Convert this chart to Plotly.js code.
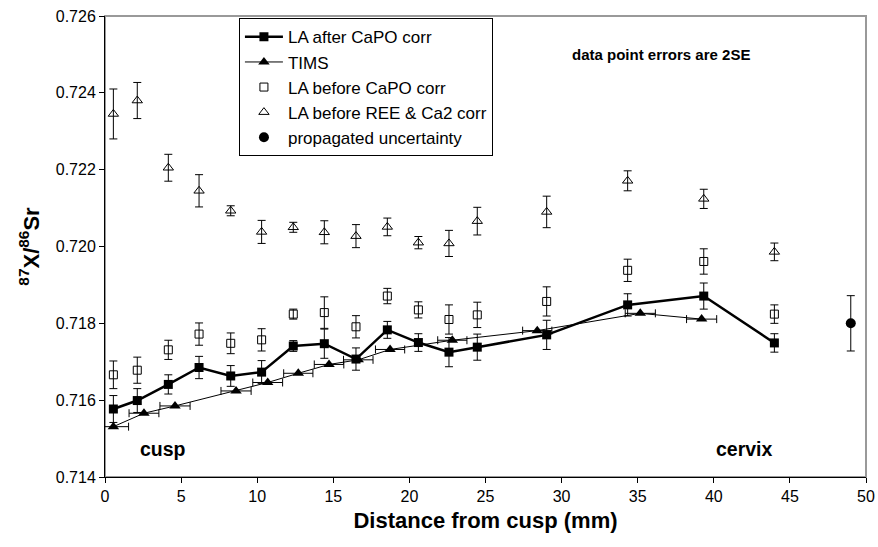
<!DOCTYPE html>
<html>
<head>
<meta charset="utf-8">
<script src="https://cdn.plot.ly/plotly-3.0.1.min.js"></script>
<style>html,body{margin:0;padding:0;background:#fff;}#chart{width:878px;height:547px;}</style>
</head>
<body>
<div id="chart"></div>
<script>
// Distance from cusp (mm) for laser-ablation (LA) spots
const laX = [0.55, 2.12, 4.16, 6.18, 8.26, 10.29, 12.37, 14.41, 16.49, 18.55, 20.59, 22.6, 24.46, 29.02, 34.34, 39.34, 43.98];
// LA after CaPO corr
const laAfter = [0.71577, 0.71599, 0.71641, 0.71685, 0.71663, 0.71673, 0.71741, 0.71747, 0.71707, 0.71783, 0.71750, 0.71725, 0.71738, 0.71770, 0.71848, 0.71871, 0.71749];
const laAfterErr = [0.00035, 0.00031, 0.00025, 0.00029, 0.00027, 0.00030, 0.00014, 0.00038, 0.00029, 0.00022, 0.00023, 0.00038, 0.00034, 0.00038, 0.00029, 0.00034, 0.00024];
// LA before CaPO corr
const laBeforeCaPO = [0.71666, 0.71678, 0.71731, 0.71772, 0.71748, 0.71757, 0.71824, 0.71828, 0.71791, 0.71871, 0.71835, 0.71810, 0.71822, 0.71857, 0.71938, 0.71961, 0.71824];
const laBeforeCaPOErr = [0.00036, 0.00034, 0.00025, 0.00029, 0.00027, 0.00029, 0.00013, 0.00041, 0.00029, 0.00020, 0.00021, 0.00038, 0.00033, 0.00038, 0.00029, 0.00033, 0.00024];
// LA before REE & Ca2 corr
const laBeforeREE = [0.72345, 0.72380, 0.72205, 0.72145, 0.72093, 0.72038, 0.72050, 0.72037, 0.72027, 0.72051, 0.72010, 0.72008, 0.72066, 0.72090, 0.72171, 0.72124, 0.71986];
const laBeforeREEErr = [0.00065, 0.00047, 0.00035, 0.00042, 0.00013, 0.00030, 0.00013, 0.00030, 0.00030, 0.00023, 0.00016, 0.00034, 0.00036, 0.00041, 0.00026, 0.00025, 0.00023];
// TIMS
const timsX = [0.55, 2.56, 4.6, 8.61, 10.69, 12.7, 14.72, 16.64, 18.73, 22.82, 28.4, 35.17, 39.2];
const tims = [0.71531, 0.71566, 0.71585, 0.71624, 0.71646, 0.71670, 0.71693, 0.71705, 0.71732, 0.71756, 0.71781, 0.71826, 0.71811];
const timsXErr = [1.0, 0.98, 0.99, 0.99, 0.98, 0.96, 0.97, 0.97, 0.96, 0.96, 0.96, 0.99, 0.99];
// propagated uncertainty
const propX = [49.0];
const propY = [0.71800];
const propErr = [0.00072];

const FONT = 'Arial, "Liberation Sans", sans-serif';
const errStyle = {type: 'data', visible: true, color: '#000', thickness: 1, width: 4};

const traces = [
  {x: laX, y: laAfter, name: 'LA after CaPO corr', mode: 'lines+markers', legendgroup: 'a',
   line: {color: '#000', width: 2.5}, marker: {symbol: 'square', size: 9, color: '#000'},
   error_y: Object.assign({array: laAfterErr}, errStyle)},
  {x: timsX, y: tims, name: 'TIMS', mode: 'lines+markers', legendgroup: 'b',
   line: {color: '#000', width: 1}, marker: {symbol: 'triangle-up', size: 10, color: '#000'},
   error_x: Object.assign({array: timsXErr}, errStyle)},
  {x: laX, y: laBeforeCaPO, name: 'LA before CaPO corr', mode: 'markers', legendgroup: 'c',
   marker: {symbol: 'square-open', size: 8, color: '#000', line: {width: 1}},
   error_y: Object.assign({array: laBeforeCaPOErr}, errStyle)},
  {x: laX, y: laBeforeREE, name: 'LA before REE & Ca2 corr', mode: 'markers', legendgroup: 'd',
   marker: {symbol: 'triangle-up-open', size: 9, color: '#000', line: {width: 1}},
   error_y: Object.assign({array: laBeforeREEErr}, errStyle)},
  {x: propX, y: propY, name: 'propagated uncertainty', mode: 'markers', legendgroup: 'e',
   marker: {symbol: 'circle', size: 10, color: '#000'},
   error_y: Object.assign({array: propErr}, errStyle)}
];

const layout = {
  width: 878, height: 547,
  margin: {l: 105, r: 12, t: 16, b: 70, pad: 0},
  paper_bgcolor: '#fff', plot_bgcolor: '#fff',
  font: {family: FONT, color: '#000', size: 16},
  showlegend: true,
  legend: {x: 0.176, y: 0.995, xanchor: 'left', yanchor: 'top',
           bgcolor: '#fff', bordercolor: '#000', borderwidth: 1,
           font: {family: FONT, size: 17, color: '#000'},
           tracegroupgap: 0, itemwidth: 38},
  xaxis: {range: [0, 50], dtick: 5, tick0: 0, showgrid: false, zeroline: false,
          showline: true, linecolor: '#000', linewidth: 1,
          ticks: 'outside', ticklen: 5, tickcolor: '#000',
          tickfont: {family: FONT, size: 16, color: '#000'},
          title: {text: 'Distance from cusp (mm)', font: {family: FONT, size: 22, weight: 'bold', color: '#000'}, standoff: 8}},
  yaxis: {range: [0.714, 0.726], dtick: 0.002, tick0: 0.714, tickformat: '.3f', showgrid: false, zeroline: false,
          showline: true, linecolor: '#000', linewidth: 1,
          ticks: 'outside', ticklen: 5, tickcolor: '#000',
          tickfont: {family: FONT, size: 16, color: '#000'},
          title: {text: '<sup>87</sup>X/<sup>86</sup>Sr', font: {family: FONT, size: 22, weight: 'bold', color: '#000'}, standoff: 10}},
  shapes: [
    {type: 'rect', xref: 'paper', yref: 'paper', x0: 0, x1: 1, y0: 0, y1: 1,
     line: {color: '#999', width: 2}, layer: 'below'}
  ],
  annotations: [
    {text: '<b>data point errors are 2SE</b>', xref: 'paper', yref: 'paper', x: 0.850, y: 0.939,
     showarrow: false, font: {family: FONT, size: 15, color: '#000'}},
    {text: '<b>cusp</b>', xref: 'paper', yref: 'paper', x: 0.0434, y: 0.0325,
     showarrow: false, font: {family: FONT, size: 19.5, color: '#000'}},
    {text: '<b>cervix</b>', xref: 'paper', yref: 'paper', x: 0.880, y: 0.0325,
     showarrow: false, font: {family: FONT, size: 19.5, color: '#000'}}
  ]
};

Plotly.newPlot('chart', traces, layout, {displayModeBar: false, staticPlot: true});
</script>
</body>
</html>
